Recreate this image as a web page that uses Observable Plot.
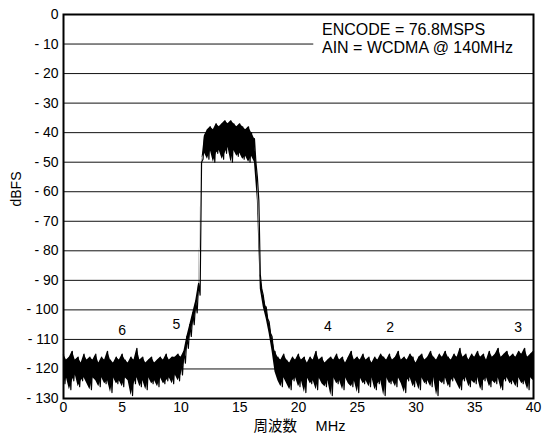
<!DOCTYPE html>
<html>
<head>
<meta charset="utf-8">
<script src="https://cdn.jsdelivr.net/npm/d3@7"></script>
<script src="https://cdn.jsdelivr.net/npm/@observablehq/plot@0.6"></script>
<style>
  html, body { margin: 0; padding: 0; background: #fff; }
  #chart svg { display: block; }
</style>
</head>
<body>
<div id="chart"></div>
<script>
// Frequency grid of the FFT plot (MHz): samples every 0.25 MHz, upper values at f, lower values at f + 0.125
const freqStart = 0;
const freqStep = 0.25;

// Upper envelope (dBFS) at f = 0, 0.25, ... 40
const upperDbfs = [
  -115,-117,-116,-114,-117,-116,-118,-115,-117,-116,
  -117,-115,-118,-116,-117,-114,-117,-118,-116,-117,
  -115,-117,-118,-116,-117,-113,-117,-116,-118,-117,
  -116,-118,-117,-116,-117,-115,-117,-116,-116,-115,
  -116,-114,-109,-105,-101,-97,-91,-50,-41,-39,
  -38,-39,-37,-38,-37,-36,-37,-36,-37,-38,
  -37,-38,-39,-38,-40,-42,-55,-88,-95,-99,
  -104,-109,-114,
  -116,-117,-115,-117,-118,-116,-117,-115,-117,-116,
  -118,-116,-117,-114,-117,-116,-118,-117,-116,-117,
  -115,-117,-116,-118,-116,-114,-117,-116,-117,-115,
  -117,-116,-118,-116,-117,-115,-116,-117,-115,-117,
  -116,-114,-117,-116,-117,-115,-116,-118,-116,-115,
  -117,-116,-114,-116,-117,-115,-116,-114,-116,-117,
  -115,-116,-113,-116,-115,-117,-115,-116,-114,-116,
  -115,-117,-114,-116,-115,-113,-116,-115,-114,-116,
  -115,-116,-114,-115,-113,-116,-115,-114
];

// Lower envelope (dBFS) at f = 0.125, 0.375, ...
const lowerDbfs = [
  -125,-123,-127,-124,-122,-126,-124,-123,-125,-127,
  -123,-124,-126,-123,-125,-124,-128,-123,-125,-124,
  -126,-123,-124,-129,-125,-123,-126,-124,-127,-123,
  -125,-124,-126,-123,-125,-124,-123,-125,-122,-124,
  -122,-118,-113,-109,-105,-101,-95,-49,-47,-49,
  -46,-50,-47,-46,-49,-47,-45,-50,-46,-48,
  -47,-49,-48,-50,-48,-50,-63,-93,-99,-103,
  -108,-114,-121,
  -124,-126,-123,-125,-127,-124,-123,-126,-124,-128,
  -123,-125,-124,-127,-123,-125,-126,-124,-129,-123,
  -125,-124,-127,-123,-125,-126,-124,-128,-123,-125,
  -124,-126,-123,-127,-125,-124,-129,-123,-125,-124,
  -126,-123,-125,-128,-124,-123,-126,-124,-127,-123,
  -125,-124,-126,-123,-129,-124,-125,-123,-126,-124,
  -123,-125,-127,-124,-123,-126,-124,-125,-123,-127,
  -124,-123,-126,-124,-125,-123,-127,-124,-123,-125,
  -124,-126,-123,-125,-124,-127,-123,-124
];

// Harmonic markers
const markerLabels = ["6", "5", "4", "2", "3"];
const markerFreq = [5.0, 9.6, 22.5, 27.8, 38.7];
const markerDbfs = [-107, -105, -105.5, -106, -106];

// Tick values
const xTicks = [0, 5, 10, 15, 20, 25, 30, 35, 40];
const yTicks = [0, -10, -20, -30, -40, -50, -60, -70, -80, -90, -100, -110, -120, -130];

// Annotation
const noteLines = ["ENCODE = 76.8MSPS", "AIN = WCDMA @ 140MHz"];
const noteBox = [{x1: 21.3, x2: 40, y1: -0.6, y2: -19.4}];
const noteAnchor = {x: 22.0, y: -2.6};

const xLabel = "周波数\u3000 MHz";
const yLabel = "dBFS";

// Build the zig-zag trace and the band between envelopes
const trace = [];
const band = [];
for (let i = 0; i < upperDbfs.length; i++) {
  const f = freqStart + i * freqStep;
  trace.push({f, db: upperDbfs[i]});
  const f2 = f + freqStep / 2;
  if (i < lowerDbfs.length && f2 <= 40) trace.push({f: f2, db: lowerDbfs[i]});
  band.push({f, hi: upperDbfs[i], lo: lowerDbfs[i]});
}
const markers = markerLabels.map((t, i) => ({t, f: markerFreq[i], db: markerDbfs[i]}));

const fontFam = "'Liberation Sans', Arial, 'Noto Sans CJK JP', sans-serif";

const chart = Plot.plot({
  width: 542,
  height: 441,
  marginLeft: 63,
  marginRight: 9,
  marginTop: 14,
  marginBottom: 43,
  style: {fontFamily: fontFam, fontSize: "14px", color: "#000", background: "#fff"},
  x: {domain: [0, 40]},
  y: {domain: [-130, 0]},
  marks: [
    Plot.gridY(yTicks, {stroke: "#111", strokeOpacity: 1, strokeWidth: 1}),
    Plot.rect(noteBox, {x1: "x1", x2: "x2", y1: "y1", y2: "y2", fill: "#fff"}),
    Plot.areaY(band, {x: "f", y1: "lo", y2: "hi", fill: "#000"}),
    Plot.line(trace, {x: "f", y: "db", stroke: "#000", strokeWidth: 1.2}),
    Plot.text(markers, {x: "f", y: "db", text: "t", fontSize: 14, fill: "#000"}),
    Plot.text([noteLines.join("\n")], {x: () => noteAnchor.x, y: () => noteAnchor.y, text: d => d, textAnchor: "start", lineAnchor: "top", fontSize: 16, lineHeight: 1.13, fill: "#000"}),
    Plot.axisX({ticks: xTicks, tickSize: 0, tickPadding: 4, fontSize: 14, label: null, tickFormat: d => String(d)}),
    Plot.axisY({ticks: yTicks, tickSize: 0, tickPadding: 5, fontSize: 14, label: null, tickFormat: d => d === 0 ? "0" : "- " + (-d)}),
    Plot.text([xLabel], {frameAnchor: "bottom", dx: 1, dy: 32, text: d => d, fontSize: 14.5, fill: "#000"}),
    Plot.text([yLabel], {frameAnchor: "left", dx: -47, rotate: -90, text: d => d, fontSize: 14, fill: "#000"}),
    Plot.frame({stroke: "#000", strokeWidth: 2})
  ]
});
document.getElementById("chart").appendChild(chart);
</script>
</body>
</html>
